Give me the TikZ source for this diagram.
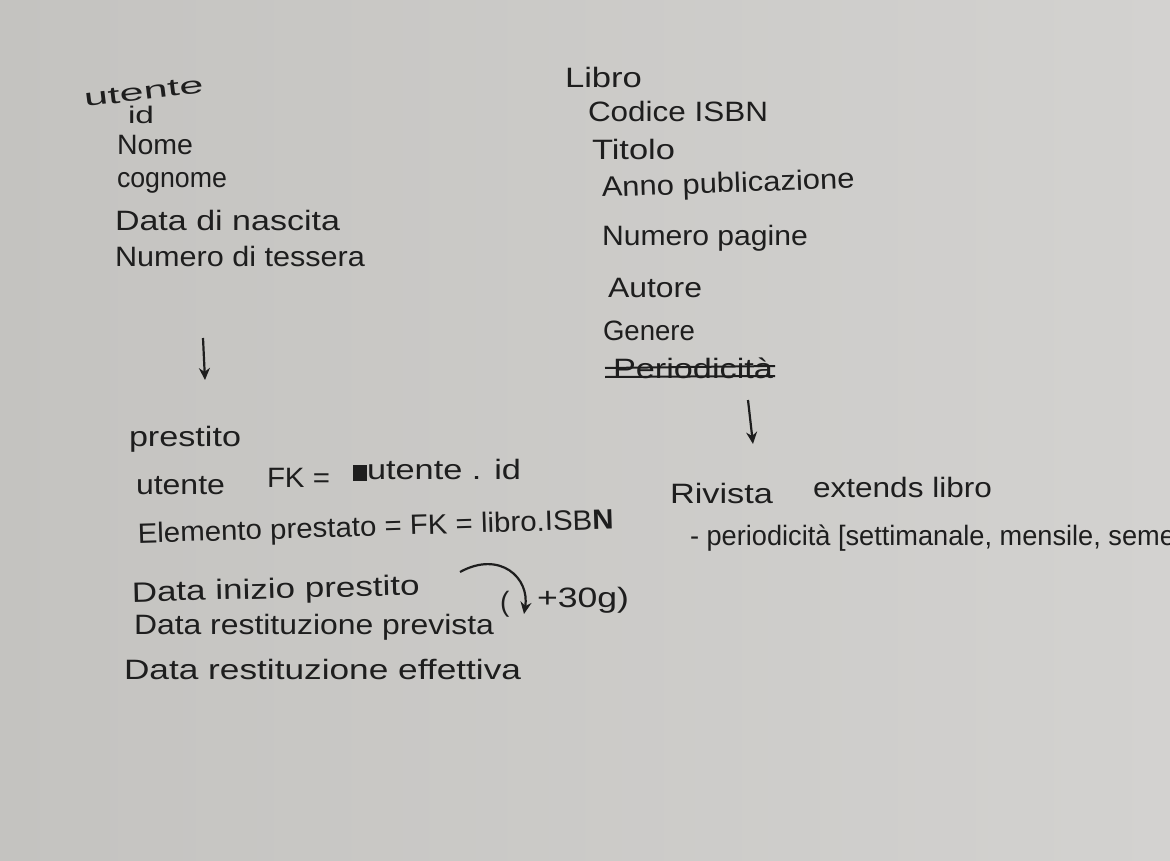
\documentclass[tikz,border=0pt]{standalone}
\usepackage{fontspec}
\setmainfont{Liberation Sans}
\usetikzlibrary{arrows.meta}
\definecolor{paperL}{RGB}{196,195,192}
\definecolor{paperR}{RGB}{211,210,208}
\definecolor{ink}{RGB}{30,30,30}
\newlength\hwlen
\newcommand\hw[2]{\settowidth\hwlen{#2}\pgfmathsetmacro\hwf{#1/\hwlen}\scalebox{\hwf}[1]{#2}}
\begin{document}
\begin{tikzpicture}[x=1pt,y=-1pt,
  hand/.style={anchor=base west, inner sep=0pt, outer sep=0pt, text=ink, font=\fontsize{28}{32}\selectfont},
  small/.style={hand, font=\fontsize{24}{28}\selectfont},
  arr/.style={draw=ink, line width=2.2pt, -{Stealth[length=12pt,width=11pt]}},
  strike/.style={draw=ink, line width=2pt}]
\useasboundingbox (0,0) rectangle (1170,861);
\clip (0,0) rectangle (1170,861);
\shade[left color=paperL, right color=paperR] (0,0) rectangle (1170,861);

% utente
\node[small, rotate=7] (utenteT) at (85,107) {\hw{120}{utente}};
\node[small] (id) at (128,124) {\hw{26}{id}};
\node[hand] (nome) at (117,155) {\hw{76}{Nome}};
\node[hand] (cognome) at (117,188) {\hw{110}{cognome}};
\node[hand] (nascita) at (115,231) {\hw{225}{Data di nascita}};
\node[hand] (tessera) at (115,266) {\hw{250}{Numero di tessera}};
\coordinate (a1s) at (203,338);
\coordinate (a1e) at (205,380);
\draw[arr] (a1s) -- (a1e);

% prestito
\node[hand] (prestito) at (129,446) {\hw{112}{prestito}};
\node[hand] (uten) at (136,494) {\hw{89}{utente}};
\node[hand] (fk) at (267,487) {\hw{63}{FK =}};
\fill[ink] (353,465) rectangle (367,481);
\node[hand] (utid) at (367,479) {\hw{154}{utente . id}};
\node[hand, rotate=1.7] (elemento) at (138,543) {\hw{476}{Elemento prestato = FK = libro.ISB\textbf{N}}};
\node[hand, rotate=1.4] (inizio) at (132,602) {\hw{288}{Data inizio prestito}};
\coordinate (c1) at (460,572);
\coordinate (c2) at (524,614);
\draw[arr] (c1) .. controls (500,550) and (530,578) .. (c2);
\node[hand] (paren) at (500,611) {(};
\node[hand] (giorni) at (537,607) {\hw{92}{+30g)}};
\node[hand] (prevista) at (134,634) {\hw{360}{Data restituzione prevista}};
\node[hand] (effettiva) at (124,679) {\hw{397}{Data restituzione effettiva}};

% libro
\node[hand] (libro) at (565,88) {\hw{77}{Libro}};
\node[hand] (isbn) at (588,122) {\hw{180}{Codice ISBN}};
\node[hand] (titolo) at (592,160) {\hw{83}{Titolo}};
\node[hand, rotate=2] (anno) at (602,197) {\hw{253}{Anno publicazione}};
\node[hand] (pagine) at (602,245) {\hw{206}{Numero pagine}};
\node[hand] (autore) at (608,297) {\hw{94}{Autore}};
\node[hand] (genere) at (603,340) {\hw{92}{Genere}};
\node[hand] (period) at (613,378) {\hw{160}{Periodicità}};
\draw[strike] (605,368) -- (775,366);
\draw[strike] (605,377) -- (775,376);
\coordinate (a2s) at (748,400);
\coordinate (a2e) at (753,444);
\draw[arr] (a2s) -- (a2e);

% rivista
\node[hand] (rivista) at (670,503) {\hw{103}{Rivista}};
\node[hand] (extends) at (813,497) {\hw{179}{extends libro}};
\node[hand] (periodicita) at (690,545) {\hw{485}{- periodicità [settimanale, mensile, seme}};
\end{tikzpicture}
\end{document}
